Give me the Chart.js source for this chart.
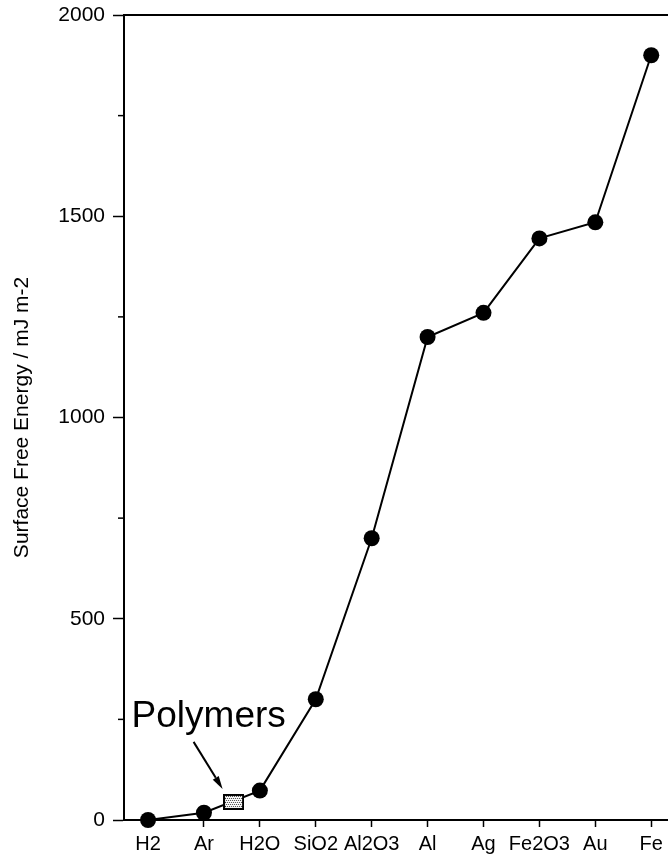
<!DOCTYPE html>
<html>
<head>
<meta charset="utf-8">
<script src="https://cdn.jsdelivr.net/npm/chart.js@4.4.1/dist/chart.umd.min.js"></script>
<style>
html,body{margin:0;padding:0;background:#fff;}
canvas{display:block;}
</style>
</head>
<body>
<canvas id="c" width="668" height="858"></canvas>
<script>
const categories = ['H2','Ar','H2O','SiO2','Al2O3','Al','Ag','Fe2O3','Au','Fe'];
const surfaceEnergy = [0, 18, 73, 300, 700, 1200, 1260, 1445, 1485, 1900];
const polymerPosition = [1.53];
const polymerEnergy = [45];
const polymerLabel = 'Polymers';
const yMajorStep = 500;
const yMinorTicks = [250, 750, 1250, 1750];
const yTitle = 'Surface Free Energy / mJ m-2';

const FONT = '"Liberation Sans", Arial, Helvetica, sans-serif';

// stippled rectangle marker for the polymers region
function makeStipple(){
  const w = 21, h = 16;
  const cv = document.createElement('canvas');
  cv.width = w; cv.height = h;
  const g = cv.getContext('2d');
  g.fillStyle = '#fff'; g.fillRect(0,0,w,h);
  g.fillStyle = '#333';
  for (let y = 2; y < h-1; y += 2){
    for (let x = 2 + (y/2 % 2); x < w-1; x += 2){
      g.fillRect(x, y, 1, 1);
    }
  }
  g.strokeStyle = '#000'; g.lineWidth = 2;
  g.strokeRect(1,1,w-2,h-2);
  return cv;
}

const mainData = categories.map((c,i)=>({x:i, y:surfaceEnergy[i]}));
const polyData = polymerPosition.map((p,i)=>({x:p, y:polymerEnergy[i]}));

const decor = {
  id:'decor',
  afterDraw(chart){
    const {ctx, chartArea:a, scales} = chart;
    const ys = scales.y;
    ctx.save();
    // top frame line
    ctx.strokeStyle = '#000'; ctx.lineWidth = 2;
    ctx.beginPath(); ctx.moveTo(a.left-1, a.top); ctx.lineTo(a.right, a.top); ctx.stroke();
    // minor y ticks
    ctx.lineWidth = 1.5;
    yMinorTicks.forEach(v=>{
      const py = ys.getPixelForValue(v);
      ctx.beginPath(); ctx.moveTo(a.left-6, py); ctx.lineTo(a.left, py); ctx.stroke();
    });
    // Polymers label + arrow
    const px = scales.x.getPixelForValue(polymerPosition[0]);
    const py = ys.getPixelForValue(polymerEnergy[0]);
    ctx.fillStyle = '#000';
    ctx.font = '37px ' + FONT;
    ctx.textBaseline = 'alphabetic';
    ctx.textAlign = 'left';
    ctx.fillText(polymerLabel, px - 102, py - 75);
    const x0 = px - 40, y0 = py - 60, x1 = px - 11, y1 = py - 13;
    const ang = Math.atan2(y1-y0, x1-x0);
    const hl = 13, hw = 3.5;
    const bx = x1 - hl*Math.cos(ang), by = y1 - hl*Math.sin(ang);
    ctx.lineWidth = 2;
    ctx.beginPath(); ctx.moveTo(x0,y0); ctx.lineTo(bx,by); ctx.stroke();
    ctx.beginPath();
    ctx.moveTo(x1,y1);
    ctx.lineTo(bx + hw*Math.sin(ang), by - hw*Math.cos(ang));
    ctx.lineTo(bx - hw*Math.sin(ang), by + hw*Math.cos(ang));
    ctx.closePath(); ctx.fill();
    ctx.restore();
  }
};

new Chart(document.getElementById('c'), {
  type:'scatter',
  data:{
    datasets:[
      {
        data: mainData,
        showLine:true,
        clip:false,
        borderColor:'#000',
        borderWidth:2,
        backgroundColor:'#000',
        pointBackgroundColor:'#000',
        pointBorderColor:'#000',
        pointRadius:8,
        pointBorderWidth:0,
        tension:0,
        order:2
      },
      {
        data: polyData,
        showLine:false,
        clip:false,
        pointStyle: makeStipple(),
        pointRadius:10,
        order:1
      }
    ]
  },
  options:{
    responsive:false,
    animation:false,
    devicePixelRatio:1,
    layout:{autoPadding:false, padding:{top:15, right:0, left:0, bottom:0}},
    plugins:{legend:{display:false}, tooltip:{enabled:false}},
    scales:{
      x:{
        type:'linear',
        min:-0.43,
        max:9.3,
        afterFit(s){ s.height = 38; s.paddingLeft = 0; s.paddingRight = 0; },
        border:{display:true, color:'#000', width:2},
        grid:{drawOnChartArea:false, drawTicks:true, tickLength:7, color:'#000', tickWidth:1.5},
        ticks:{
          stepSize:1,
          includeBounds:false,
          autoSkip:false,
          maxRotation:0,
          padding:5,
          color:'#000',
          font:{family:FONT, size:20},
          callback(v){ return Number.isInteger(v) && categories[v] !== undefined ? categories[v] : null; }
        }
      },
      y:{
        min:0,
        max:2000,
        afterFit(s){ s.width = 124; s.paddingTop = 0; s.paddingBottom = 0; },
        border:{display:true, color:'#000', width:2},
        grid:{drawOnChartArea:false, drawTicks:true, tickLength:11, color:'#000', tickWidth:1.5},
        ticks:{
          stepSize:yMajorStep,
          padding:8,
          color:'#000',
          font:{family:FONT, size:21},
          callback(v){ return String(v); }
        },
        title:{
          display:true,
          text:yTitle,
          color:'#000',
          font:{family:FONT, size:21},
          padding:{top:10, bottom:0}
        }
      }
    }
  },
  plugins:[decor]
});
</script>
</body>
</html>
